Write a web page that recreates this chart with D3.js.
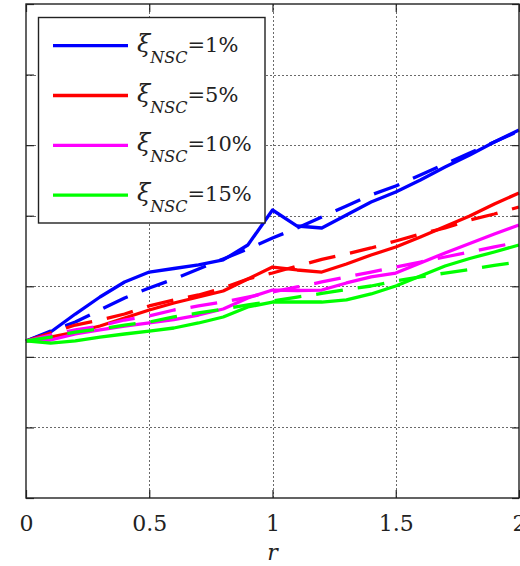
<!DOCTYPE html>
<html>
<head>
<meta charset="utf-8">
<script src="https://cdn.jsdelivr.net/npm/d3@7"></script>
<style>
  html, body { margin: 0; padding: 0; background: #fff; }
  svg { display: block; }
  .serif { font-family: "DejaVu Serif"; }
</style>
</head>
<body>
<svg id="chart" width="520" height="566"></svg>
<script>
// r from 0 to 2 in steps of 0.1
const rValues = [0, 0.1, 0.2, 0.3, 0.4, 0.5, 0.6, 0.7, 0.8, 0.9, 1.0,
                 1.1, 1.2, 1.3, 1.4, 1.5, 1.6, 1.7, 1.8, 1.9, 2.0];

const seriesLabels = ["1%", "5%", "10%", "15%"];

// simulated response (solid lines)
const solid1  = [2.225, 2.352, 2.607, 2.848, 3.061, 3.202, 3.252, 3.302, 3.373, 3.585, 4.081,
                 3.854, 3.826, 4.010, 4.194, 4.336, 4.506, 4.690, 4.860, 5.045, 5.215];
const solid5  = [2.225, 2.281, 2.352, 2.437, 2.551, 2.664, 2.763, 2.848, 2.933, 3.103, 3.273,
                 3.231, 3.202, 3.316, 3.443, 3.557, 3.698, 3.847, 3.996, 4.166, 4.322];
const solid10 = [2.225, 2.239, 2.324, 2.381, 2.437, 2.480, 2.529, 2.593, 2.678, 2.834, 2.947,
                 2.940, 2.947, 3.047, 3.132, 3.188, 3.330, 3.472, 3.606, 3.741, 3.869];
const solid15 = [2.225, 2.196, 2.225, 2.281, 2.324, 2.366, 2.409, 2.480, 2.565, 2.707, 2.777,
                 2.777, 2.777, 2.806, 2.891, 3.004, 3.146, 3.287, 3.394, 3.486, 3.585];

// fitted response (dashed lines)
const dashed1  = [2.225, 2.366, 2.494, 2.664, 2.834, 2.976, 3.103, 3.245, 3.387, 3.528, 3.684,
                  3.826, 3.982, 4.138, 4.294, 4.421, 4.577, 4.733, 4.889, 5.045, 5.200];
const dashed5  = [2.225, 2.338, 2.451, 2.522, 2.607, 2.721, 2.806, 2.877, 2.976, 3.103, 3.188,
                  3.287, 3.380, 3.458, 3.543, 3.642, 3.741, 3.826, 3.939, 4.024, 4.124];
const dashed10 = [2.225, 2.310, 2.381, 2.437, 2.522, 2.579, 2.664, 2.721, 2.777, 2.848, 2.919,
                  2.990, 3.061, 3.132, 3.202, 3.273, 3.344, 3.415, 3.486, 3.557, 3.628];
const dashed15 = [2.225, 2.281, 2.352, 2.395, 2.451, 2.494, 2.565, 2.622, 2.678, 2.735, 2.792,
                  2.848, 2.898, 2.955, 3.004, 3.075, 3.132, 3.188, 3.238, 3.295, 3.344];

const xTicks = [0, 0.5, 1, 1.5, 2];
const xTickLabels = ["0", "0.5", "1", "1.5", "2"];
const yTicks = [0, 1, 2, 3, 4, 5, 6, 7];

const colors = ["#0000ff", "#ff0000", "#ff00ff", "#00ff00"];
const solids = [solid1, solid5, solid10, solid15];
const dashes = [dashed1, dashed5, dashed10, dashed15];

const svg = d3.select("#chart");
const plotL = 26, plotR = 519, plotT = 4, plotB = 498;

const x = d3.scaleLinear().domain([0, 2]).range([plotL, plotR]);
const y = d3.scaleLinear().domain([0, 7]).range([plotB, plotT]);

// grid
const grid = svg.append("g").attr("stroke", "#6a6a6a").attr("stroke-width", 1)
  .attr("stroke-dasharray", "2,2").attr("shape-rendering", "crispEdges");
grid.selectAll("line.v").data(xTicks.slice(1, -1)).join("line")
  .attr("x1", d => Math.round(x(d)) + 0.5).attr("x2", d => Math.round(x(d)) + 0.5)
  .attr("y1", plotT).attr("y2", plotB);
grid.selectAll("line.h").data(yTicks.slice(1, -1)).join("line")
  .attr("x1", plotL).attr("x2", plotR)
  .attr("y1", d => Math.round(y(d)) + 0.5).attr("y2", d => Math.round(y(d)) + 0.5);

// data lines
const line = d3.line().x((d, i) => x(rValues[i])).y(d => y(d));
const plot = svg.append("g").attr("fill", "none").attr("stroke-width", 3.3)
  .attr("stroke-linejoin", "round");
solids.forEach((s, k) => {
  plot.append("path").datum(s).attr("d", line).attr("stroke", colors[k]);
  plot.append("path").datum(dashes[k]).attr("d", line).attr("stroke", colors[k])
    .attr("stroke-dasharray", "27,15");
});

// axes with inward ticks
const axisStyle = g => {
  g.select(".domain").remove();
  g.attr("font-family", null);
  g.selectAll(".tick line").attr("stroke", "#222").attr("stroke-width", 1.2);
};
svg.append("g").attr("transform", `translate(0,${plotB})`)
  .call(d3.axisBottom(x).tickValues(xTicks).tickSize(-8)
    .tickFormat((d, i) => xTickLabels[i]))
  .call(axisStyle)
  .call(g => g.selectAll(".tick text").attr("y", 33).attr("dy", 0)
    .attr("class", "serif").attr("fill", "#222").style("font-size", "22px"));
svg.append("g").attr("transform", `translate(0,${plotT})`)
  .call(d3.axisTop(x).tickValues(xTicks).tickSize(-8).tickFormat(""))
  .call(axisStyle);
svg.append("g").attr("transform", `translate(${plotL},0)`)
  .call(d3.axisLeft(y).tickValues(yTicks).tickSize(-8).tickFormat(""))
  .call(axisStyle);
svg.append("g").attr("transform", `translate(${plotR},0)`)
  .call(d3.axisRight(y).tickValues(yTicks).tickSize(-7).tickFormat(""))
  .call(axisStyle);

// frame
svg.append("rect").attr("x", plotL).attr("y", plotT)
  .attr("width", plotR - plotL).attr("height", plotB - plotT)
  .attr("fill", "none").attr("stroke", "#222").attr("stroke-width", 1.4);

// axis title
svg.append("text").attr("class", "serif").attr("x", x(1)).attr("y", 560)
  .attr("text-anchor", "middle")
  .style("font-size", "22px").style("font-style", "italic")
  .attr("fill", "#222").text("r");

// legend
const lg = svg.append("g");
lg.append("rect").attr("x", 38.5).attr("y", 17.5).attr("width", 226.5).attr("height", 205.5)
  .attr("fill", "#fff").attr("stroke", "#222").attr("stroke-width", 1.4);
seriesLabels.forEach((lab, i) => {
  const ly = 45.7 + i * 49.8;
  lg.append("line").attr("x1", 53).attr("x2", 128).attr("y1", ly).attr("y2", ly)
    .attr("stroke", colors[i]).attr("stroke-width", 3.3);
  const t = lg.append("text").attr("class", "serif").attr("x", 137).attr("y", ly + 6)
    .attr("fill", "#222");
  t.append("tspan").style("font-size", "24px").style("font-style", "italic").text("ξ");
  t.append("tspan").attr("dy", 11).style("font-size", "16px").style("font-style", "italic")
    .text("NSC");
  t.append("tspan").attr("dy", -11).style("font-size", "21px").text("=" + lab);
});
</script>
</body>
</html>
